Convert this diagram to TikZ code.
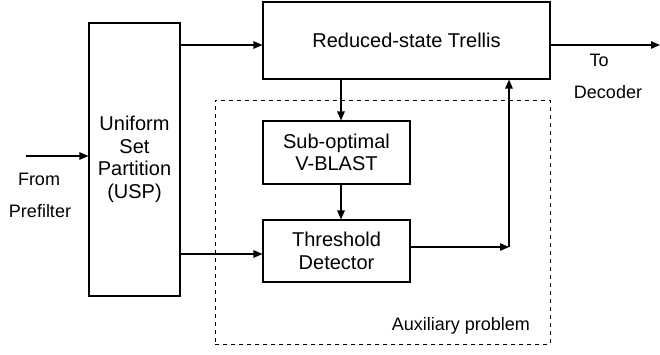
\documentclass[tikz,border=0pt]{standalone}
\usepackage{fontspec}
\setmainfont{Liberation Sans}
\usetikzlibrary{arrows.meta}
\begin{document}
\begin{tikzpicture}[x=1pt,y=-1pt,
  blk/.style={draw,line width=1.1pt,align=center,font=\fontsize{20}{22.5}\selectfont,inner sep=0pt},
  lbl/.style={font=\fontsize{18}{20}\selectfont,inner sep=0pt},
  arr/.style={line width=1.1pt,-{Triangle[length=9pt,width=7.5pt]}},
  ln/.style={line width=1.1pt},
  auxbox/.style={draw,line width=0.9pt,dash pattern=on 4pt off 4pt}]
\useasboundingbox (0,0) rectangle (660,354);
\node[blk,minimum width=91pt,minimum height=273pt] (usp) at (134.5,159.5) {Uniform\\Set\\Partition\\(USP)};
\node[blk,minimum width=287pt,minimum height=77pt] (trellis) at (406.5,40.5) {Reduced-state Trellis};
\node[auxbox,minimum width=335pt,minimum height=244pt] (aux) at (382.5,222) {};
\node[blk,minimum width=147pt,minimum height=63pt] (sub) at (336.5,152.5) {Sub-optimal\\V-BLAST};
\node[blk,minimum width=147pt,minimum height=62pt] (thr) at (336.5,251) {Threshold\\Detector};
\node[lbl] (from) at (39,179) {From};
\node[lbl] (pre) at (40,211) {Prefilter};
\node[lbl] (to) at (599,60) {To};
\node[lbl] (dec) at (608,92) {Decoder};
\node[lbl] (auxl) at (461,326) {Auxiliary problem};
\coordinate (in) at (26,156);
\coordinate (yA) at (0,45);
\coordinate (yB) at (0,254);
\coordinate (out) at (660,45);
\coordinate (xV) at (341,0);
\coordinate (c1) at (509,247);
\draw[arr] (in) -- (in -| usp.west);
\draw[arr] (usp.east |- yA) -- (trellis.west |- yA);
\draw[arr] (usp.east |- yB) -- (thr.west |- yB);
\draw[arr] (trellis.east |- out) -- (out);
\draw[arr] (trellis.south -| xV) -- (sub.north -| xV);
\draw[arr] (sub.south -| xV) -- (thr.north -| xV);
\draw[arr] (thr.east |- c1) -- (c1);
\draw[arr] (c1) -- (trellis.south -| c1);
\end{tikzpicture}
\end{document}
